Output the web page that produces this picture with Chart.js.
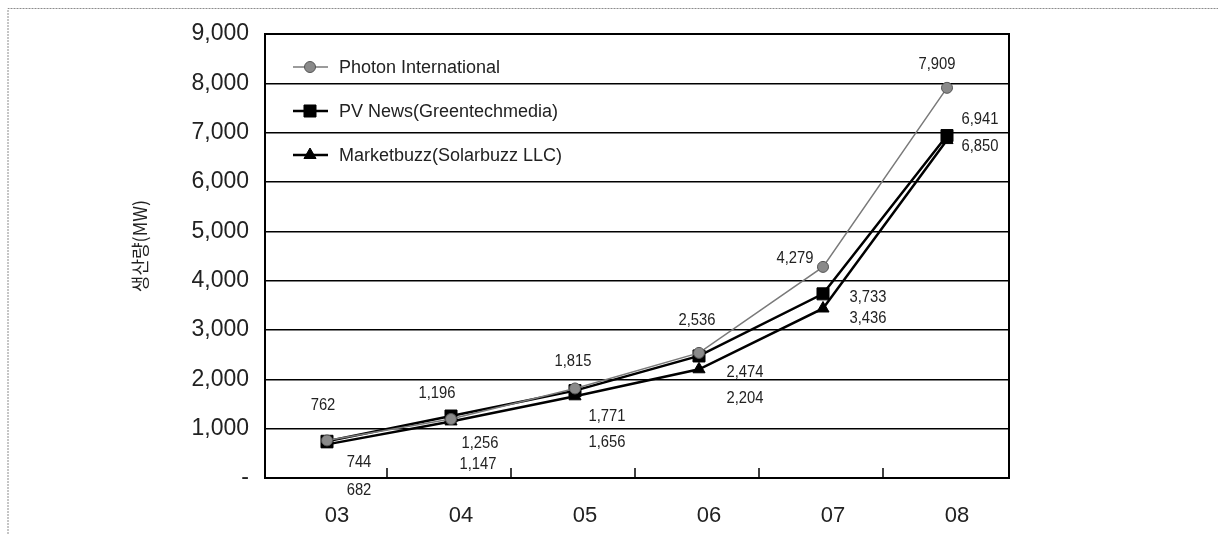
<!DOCTYPE html>
<html>
<head>
<meta charset="utf-8">
<script src="https://cdn.jsdelivr.net/npm/chart.js@4"></script>
<style>
  html, body { margin: 0; padding: 0; background: #fff; }
</style>
</head>
<body>
<canvas id="prodChart" width="1218" height="534"></canvas>
<script>
// 태양전지 생산량 비교 (MW)
const years = ['03', '04', '05', '06', '07', '08'];
const photon = [762, 1196, 1815, 2536, 4279, 7909];
const pvNews = [744, 1256, 1771, 2474, 3733, 6941];
const marketbuzz = [682, 1147, 1656, 2204, 3436, 6850];
const seriesNames = ['Photon International', 'PV News(Greentechmedia)', 'Marketbuzz(Solarbuzz LLC)'];
const yTitle = '생산량(MW)';

// label offsets (dx, dy) from each point, per series
const labelOffsets = [
  [[-4, -35], [-14, -26], [-2, -27], [-2, -33], [-28, -9], [-10, -24]],
  [[32, 21], [29, 27], [32, 26], [46, 16], [45, 3], [33, -16]],
  [[32, 46], [27, 43], [32, 46], [46, 29], [45, 10], [33, 6]]
];

const fmt = v => v.toLocaleString('en-US');

const deco = {
  id: 'deco',
  beforeDraw(chart) {
    const c = chart.ctx;
    c.save();
    c.strokeStyle = '#8c8c8c';
    c.lineWidth = 1;
    c.setLineDash([2, 1]);
    c.beginPath();
    c.moveTo(8, 534); c.lineTo(8, 8.5); c.lineTo(1218, 8.5);
    c.stroke();
    c.restore();
  },
  afterDatasetsDraw(chart) {
    const c = chart.ctx;
    const a = chart.chartArea;
    const x = chart.scales.x;
    c.save();
    // plot border
    c.strokeStyle = '#000';
    c.lineWidth = 2;
    c.strokeRect(a.left, a.top, a.right - a.left, a.bottom - a.top);
    // category tick marks, pointing up
    c.lineWidth = 1.5;
    for (let i = 0; i < years.length - 1; i++) {
      const px = (x.getPixelForValue(i) + x.getPixelForValue(i + 1)) / 2 - 2;
      c.beginPath();
      c.moveTo(px, a.bottom);
      c.lineTo(px, a.bottom - 10);
      c.stroke();
    }
    // value labels (condensed)
    c.fillStyle = '#222';
    c.font = '17px "Liberation Sans", Arial, sans-serif';
    c.textAlign = 'center';
    c.textBaseline = 'middle';
    chart.data.datasets.forEach((ds, di) => {
      chart.getDatasetMeta(di).data.forEach((pt, i) => {
        const o = labelOffsets[di][i];
        c.save();
        c.translate(pt.x + o[0], pt.y + o[1]);
        c.scale(0.87, 1);
        c.fillText(fmt(ds.data[i]), 0, 0);
        c.restore();
      });
    });
    c.restore();
  },
  afterDraw(chart) {
    const c = chart.ctx;
    const a = chart.chartArea;
    c.save();
    // legend inside plot
    chart.data.datasets.forEach((ds, di) => {
      const y = a.top + 33 + di * 44;
      c.strokeStyle = ds.borderColor;
      c.lineWidth = ds.borderWidth;
      c.beginPath();
      c.moveTo(a.left + 28, y);
      c.lineTo(a.left + 63, y);
      c.stroke();
      c.fillStyle = ds.pointBackgroundColor;
      c.strokeStyle = ds.pointBorderColor;
      c.lineWidth = 1;
      Chart.helpers.drawPoint(c, { pointStyle: ds.pointStyle, radius: ds.pointRadius, rotation: 0, borderWidth: 1 }, a.left + 45, y);
      c.fillStyle = '#222';
      c.font = '18px "Liberation Sans", Arial, sans-serif';
      c.textAlign = 'left';
      c.textBaseline = 'middle';
      c.fillText(ds.label, a.left + 74, y + 1);
    });
    // y axis title
    c.translate(140, 246);
    c.rotate(-Math.PI / 2);
    c.font = '18px "Noto Sans CJK KR", "Liberation Sans", sans-serif';
    c.textAlign = 'center';
    c.textBaseline = 'middle';
    c.fillText(yTitle, 0, 0);
    c.restore();
  }
};

const ctx = document.getElementById('prodChart');

const prodChart = new Chart(ctx, {
  type: 'line',
  data: {
    labels: years,
    datasets: [{
      label: seriesNames[0],
      data: photon,
      borderColor: '#7a7a7a',
      borderWidth: 1.5,
      pointStyle: 'circle',
      pointRadius: 5.5,
      pointBackgroundColor: '#8a8a8a',
      pointBorderColor: '#555',
      pointBorderWidth: 1
    }, {
      label: seriesNames[1],
      data: pvNews,
      borderColor: '#000',
      borderWidth: 2.5,
      pointStyle: 'rect',
      pointRadius: 8.5,
      pointBackgroundColor: '#000',
      pointBorderColor: '#000',
      pointBorderWidth: 1
    }, {
      label: seriesNames[2],
      data: marketbuzz,
      borderColor: '#000',
      borderWidth: 2.5,
      pointStyle: 'triangle',
      pointRadius: 7,
      pointBackgroundColor: '#000',
      pointBorderColor: '#000',
      pointBorderWidth: 1
    }]
  },
  options: {
    responsive: false,
    animation: false,
    devicePixelRatio: 1,
    layout: { padding: { left: 0, top: 34, right: 209, bottom: 0 } },
    plugins: {
      legend: { display: false },
      tooltip: { enabled: false }
    },
    scales: {
      x: {
        offset: true,
        grid: { display: false, drawTicks: false },
        border: { display: true, color: '#000', width: 2 },
        ticks: {
          color: '#222',
          padding: 25,
          labelOffset: 10,
          font: { family: '"Liberation Sans", Arial, sans-serif', size: 22 }
        },
        afterFit(s) { s.height = 56; }
      },
      y: {
        min: 0,
        max: 9000,
        grid: { color: '#000', lineWidth: 1.5, drawTicks: false },
        border: { display: true, color: '#000', width: 2 },
        ticks: {
          stepSize: 1000,
          color: '#222',
          padding: 16,
          font: { family: '"Liberation Sans", Arial, sans-serif', size: 23 },
          callback: v => v === 0 ? '-' : fmt(v)
        },
        afterFit(s) { s.width = 265; }
      }
    }
  },
  plugins: [deco]
});
</script>
</body>
</html>
